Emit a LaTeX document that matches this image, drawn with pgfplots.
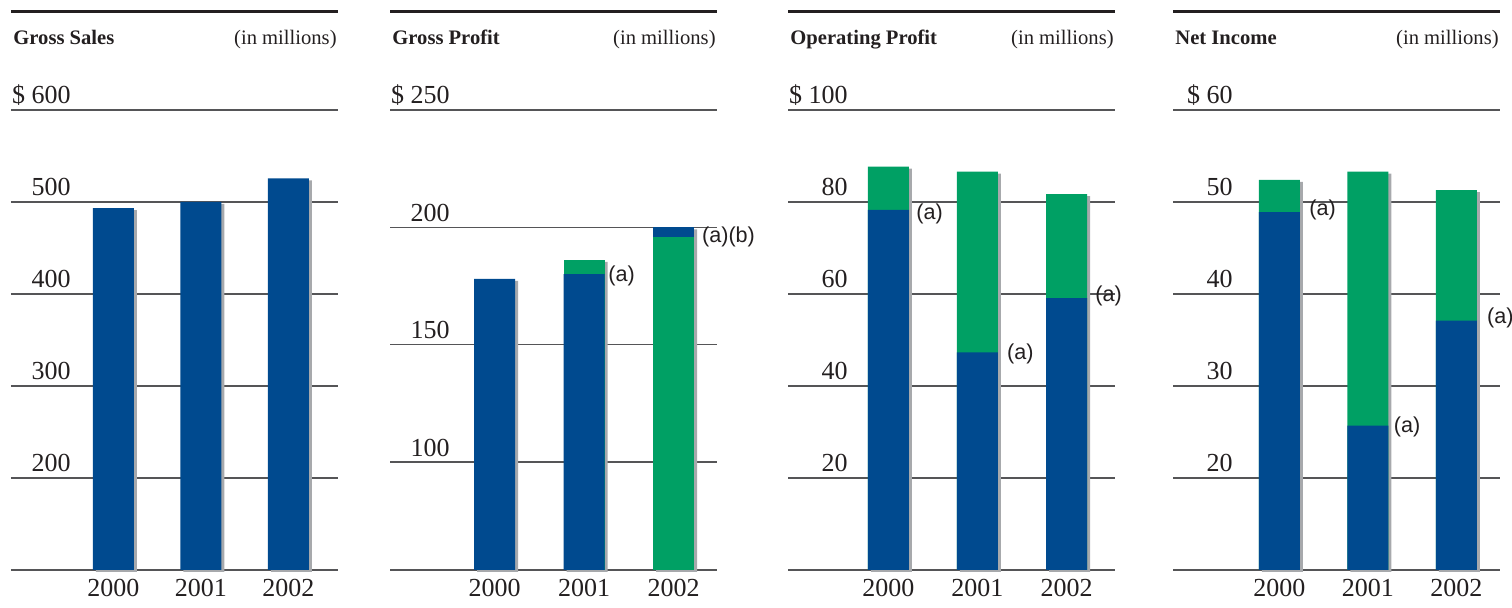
\documentclass[border=0pt]{standalone}
\usepackage{fontspec}
\setmainfont{Liberation Serif}
\newfontfamily\arial{Liberation Sans}
\usepackage{pgfplots}
\pgfplotsset{compat=1.18}
\definecolor{barblue}{RGB}{0,74,143}
\definecolor{bargreen}{RGB}{0,160,100}
\definecolor{shad}{RGB}{167,169,172}
\definecolor{gridc}{RGB}{85,85,87}
\definecolor{txt}{RGB}{35,31,32}
\pgfplotsset{
  panel/.style={
    scale only axis, width=163.5pt, height=230pt, anchor=south west,
    axis line style={draw=none},
    major tick length=0pt, tick style={draw=none},
    ymajorgrids, grid style={draw=gridc, line width=0.6pt},
    xtick={0,1,2}, xticklabels={2000,2001,2002},
    xticklabel style={anchor=base, inner sep=0pt, yshift=-13.5pt, font=\fontsize{13}{15}\selectfont, text=txt},
    yticklabel style={anchor=base east, inner sep=0pt, xshift=30pt, yshift=3pt, font=\fontsize{13}{15}\selectfont, text=txt},
    clip mode=individual,
  },
  bars/.style={ybar, bar width=20.5pt, bar shift=0pt, draw=none, fill=#1},
  shadow/.style={ybar, bar width=20.5pt, bar shift=1.5pt, draw=none, fill=shad, yshift=-1pt},
}
\tikzset{alab/.style={anchor=west, inner sep=0pt, font=\arial\fontsize{10.8}{13}\selectfont, text=txt}}
\newcommand{\header}[1]{%
  \draw[txt, line width=1.5pt] ([yshift=49pt]rel axis cs:0,1) -- ([yshift=49pt]rel axis cs:1,1);
  \node[anchor=base west, inner sep=0pt, font=\bfseries\fontsize{10.3}{12}\selectfont, text=txt] at ([xshift=1pt,yshift=32.5pt]rel axis cs:0,1) {#1};
  \node[anchor=base east, inner sep=0pt, font=\fontsize{10.3}{12}\selectfont, text=txt] at ([xshift=-0.5pt,yshift=32.5pt]rel axis cs:1,1) {(in millions)};
}
\begin{document}
\begin{tikzpicture}
\useasboundingbox (0,0) rectangle (756pt,304pt);

% Gross Sales
\begin{axis}[panel, at={(5.5pt,19pt)}, xmin=-1.171, xmax=2.566, ymin=100, ymax=600,
  ytick={100,200,300,400,500,600}, yticklabels={,200,300,400,500,\$ 600}]
  \addplot[shadow] coordinates {(0,493.4) (1,500) (2,525.6)};
  \addplot[bars=barblue] coordinates {(0,493.4) (1,500) (2,525.6)};
  \header{Gross Sales}
\end{axis}

% Gross Profit
\begin{axis}[panel, at={(195pt,19pt)}, xmin=-1.168, xmax=2.486, ymin=54, ymax=250,
  ytick={54,100,150,200,250}, yticklabels={,100,150,200,\$ 250}]
  \addplot[shadow] coordinates {(0,178) (1,186.1) (2,200)};
  % totals
  \addplot[bars=bargreen] coordinates {(1,186.1)};
  \addplot[bars=barblue] coordinates {(2,200)};
  % lower segments
  \addplot[bars=barblue] coordinates {(0,178) (1,180.1)};
  \addplot[bars=bargreen] coordinates {(2,195.9)};
  \node[alab] at ([xshift=12pt]axis cs:1,179.3) {(a)};
  \node[alab] at ([xshift=14.1pt]axis cs:2,196) {(a)(b)};
  \header{Gross Profit}
\end{axis}

% Operating Profit
\begin{axis}[panel, at={(394pt,19pt)}, xmin=-1.129, xmax=2.545, ymin=0, ymax=100,
  ytick={0,20,40,60,80,100}, yticklabels={,20,40,60,80,\$ 100}]
  \addplot[shadow] coordinates {(0,87.7) (1,86.6) (2,81.7)};
  \addplot[bars=bargreen] coordinates {(0,87.7) (1,86.6) (2,81.7)};
  \addplot[bars=barblue] coordinates {(0,78.3) (1,47.3) (2,59.1)};
  \node[alab] at ([xshift=13.75pt]axis cs:0,77.5) {(a)};
  \node[alab] at ([xshift=14.6pt]axis cs:1,47.0) {(a)};
  \node[alab] at ([xshift=14.25pt]axis cs:2,59.5) {(a)};
  \header{Operating Profit}
\end{axis}

% Net Income
\begin{axis}[panel, at={(586.5pt,19pt)}, xmin=-1.203, xmax=2.492, ymin=10, ymax=60,
  ytick={10,20,30,40,50,60}, yticklabels={,20,30,40,50,\$ 60}]
  \addplot[shadow] coordinates {(0,52.4) (1,53.3) (2,51.3)};
  \addplot[bars=bargreen] coordinates {(0,52.4) (1,53.3) (2,51.3)};
  \addplot[bars=barblue] coordinates {(0,48.9) (1,25.7) (2,37.1)};
  \node[alab] at ([xshift=14.75pt]axis cs:0,49.1) {(a)};
  \node[alab] at ([xshift=12.75pt]axis cs:1,25.6) {(a)};
  \node[alab] at ([xshift=15.1pt]axis cs:2,37.4) {(a)};
  \header{Net Income}
\end{axis}
\end{tikzpicture}
\end{document}
